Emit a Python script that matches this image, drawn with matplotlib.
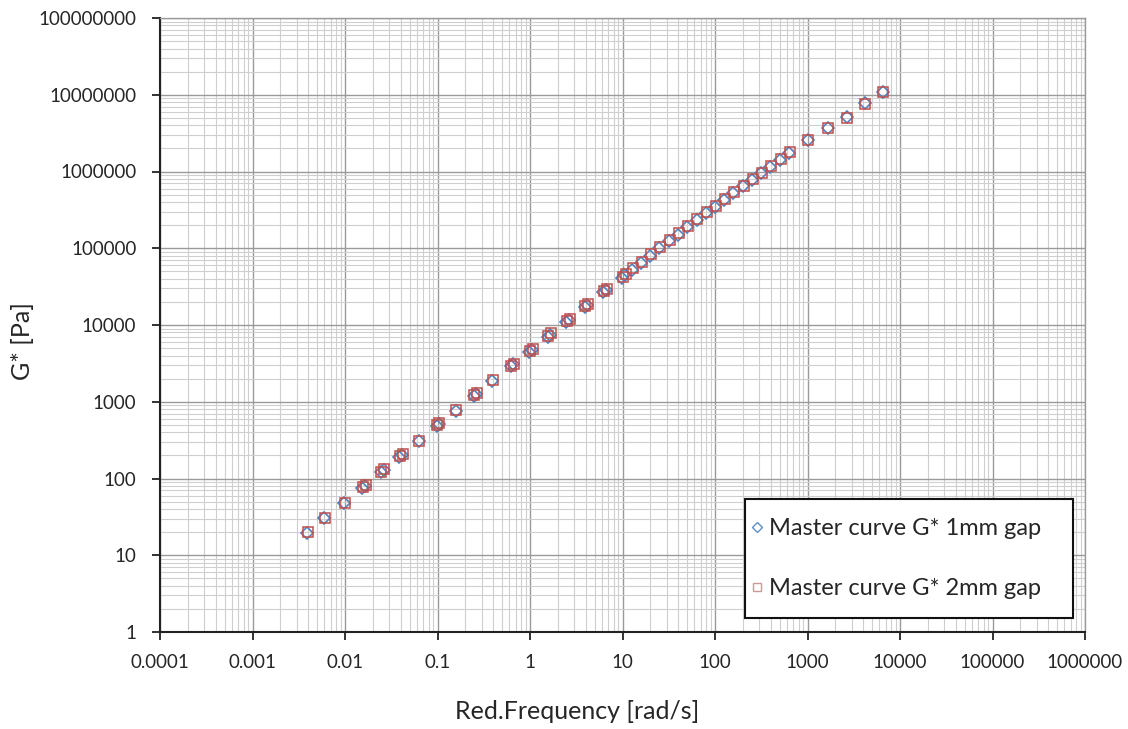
import matplotlib
matplotlib.use("Agg")
import matplotlib.pyplot as plt
from matplotlib.lines import Line2D
from matplotlib.patches import Rectangle
from matplotlib.ticker import LogLocator, FixedLocator, FixedFormatter, NullFormatter

# ---- data ----
freq_1mm = [0.0039, 0.0060, 0.0098, 0.0154, 0.0166, 0.0243, 0.0262, 0.0388, 0.0415, 0.0625,
            0.098, 0.104, 0.157, 0.247, 0.262, 0.393, 0.62, 0.66, 0.98, 1.05,
            1.55, 1.66, 2.45, 2.62, 3.9, 4.15, 6.2, 6.6, 9.8, 10.5,
            12.6, 15.8, 20.0, 25.1, 31.6, 39.8, 50.1, 63.1, 79.4, 100,
            126, 158, 200, 251, 316, 398, 501, 631, 1010, 1660,
            2680, 4190, 6570]
g_1mm = [19.3, 30.5, 47.5, 75, 81, 120, 129, 190, 203, 305,
         482, 510, 765, 1195, 1265, 1870, 2900, 3080, 4480, 4780,
         7050, 7520, 10900, 11650, 17100, 18200, 26700, 28400, 41500, 44300,
         52500, 64600, 80400, 100000, 123000, 151000, 188000, 234000, 285000, 347000,
         427000, 525000, 638000, 776000, 944000, 1150000, 1410000, 1740000, 2570000, 3690000,
         5100000, 7700000, 10800000]

freq_2mm = [0.0040, 0.0061, 0.0099, 0.0156, 0.0168, 0.0246, 0.0265, 0.0392, 0.0420, 0.0632,
            0.099, 0.105, 0.159, 0.250, 0.265, 0.398, 0.63, 0.67, 1.0, 1.07,
            1.58, 1.70, 2.50, 2.68, 3.98, 4.25, 6.3, 6.75, 10.0, 10.8,
            12.9, 16.2, 20.5, 25.7, 32.4, 40.7, 51.3, 64.6, 81.3, 102,
            129, 162, 204, 257, 324, 407, 513, 646, 1000, 1650,
            2650, 4150, 6500]
g_2mm = [19.8, 31, 48.5, 77, 82.5, 123, 132, 195, 208, 312,
         492, 522, 780, 1220, 1295, 1910, 2960, 3150, 4600, 4900,
         7250, 7750, 11200, 12000, 17600, 18800, 27400, 29300, 42800, 45800,
         54500, 67000, 83500, 103500, 127000, 156000, 194000, 241000, 294000, 357000,
         438000, 540000, 655000, 795000, 967000, 1175000, 1440000, 1770000, 2560000, 3680000,
         5050000, 7650000, 10700000]

x_ticks = [1e-4, 1e-3, 1e-2, 1e-1, 1, 10, 100, 1000, 1e4, 1e5, 1e6]
x_tick_labels = ["0.0001", "0.001", "0.01", "0.1", "1", "10", "100", "1000",
                 "10000", "100000", "1000000"]
y_ticks = [1, 10, 100, 1000, 1e4, 1e5, 1e6, 1e7, 1e8]
y_tick_labels = ["1", "10", "100", "1000", "10000", "100000", "1000000",
                 "10000000", "100000000"]

label_1 = "Master curve G* 1mm gap"
label_2 = "Master curve G* 2mm gap"
x_label = "Red.Frequency [rad/s]"
y_label = "G* [Pa]"

# ---- styling ----
plt.rcParams['font.family'] = ['Lato', 'DejaVu Sans']
blue = '#4F81BD'
red = '#C0504D'
txt = '#262626'

fig = plt.figure(figsize=(11.28, 7.29), dpi=100)
ax = fig.add_axes([160/1128, 1-632/729, 925/1128, 614/729])

ax.set_xscale('log')
ax.set_yscale('log')
ax.set_xlim(1e-4, 1e6)
ax.set_ylim(1, 1e8)

ax.xaxis.set_major_locator(FixedLocator(x_ticks))
ax.xaxis.set_major_formatter(FixedFormatter(x_tick_labels))
ax.yaxis.set_major_locator(FixedLocator(y_ticks))
ax.yaxis.set_major_formatter(FixedFormatter(y_tick_labels))
ax.xaxis.set_minor_locator(LogLocator(base=10, subs=range(2, 10), numticks=50))
ax.yaxis.set_minor_locator(LogLocator(base=10, subs=range(2, 10), numticks=50))
ax.xaxis.set_minor_formatter(NullFormatter())
ax.yaxis.set_minor_formatter(NullFormatter())

ax.grid(which='minor', color='#cfcfcf', linewidth=0.8)
ax.grid(which='major', color='#9a9a9a', linewidth=1.0)
ax.set_axisbelow(True)

ax.tick_params(which='major', direction='out', length=6, width=1.3, color='#222222',
               labelsize=13.5, labelcolor=txt)
ax.tick_params(axis='y', which='major', pad=11)
ax.tick_params(axis='x', which='major', pad=10)
ax.tick_params(which='minor', length=0)

for s in ['left', 'bottom']:
    ax.spines[s].set_color('#222222')
    ax.spines[s].set_linewidth(1.5)
for s in ['top', 'right']:
    ax.spines[s].set_color('#9a9a9a')
    ax.spines[s].set_linewidth(1.0)

ax.plot(freq_1mm, g_1mm, linestyle='none', marker='D', markersize=6.6,
        markerfacecolor='none', markeredgecolor=blue, markeredgewidth=1.2)
ax.plot(freq_2mm, g_2mm, linestyle='none', marker='s', markersize=7.2,
        markerfacecolor='none', markeredgecolor=red, markeredgewidth=1.1)

ax.set_xlabel(x_label, fontsize=18, color=txt)
ax.xaxis.set_label_coords((577 - 160) / 925, (632 - 700) / 614)
ax.set_ylabel(y_label, fontsize=18, color=txt)
ax.yaxis.set_label_coords((33.5 - 160) / 925, (632 - 341) / 614)

# legend box
ax.add_patch(Rectangle((0.6324, 0.0228), 0.3546, 0.1938, transform=ax.transAxes,
                       facecolor='white', edgecolor='#111111', linewidth=1.5, zorder=5))
handles = [Line2D([], [], linestyle='none', marker='D', markersize=5.5,
                  markerfacecolor='none', markeredgecolor='#5f8fc6', markeredgewidth=1.0),
           Line2D([], [], linestyle='none', marker='s', markersize=6,
                  markerfacecolor='none', markeredgecolor='#c99a98', markeredgewidth=1.0)]
leg = ax.legend(handles, [label_1, label_2],
                loc='center left', bbox_to_anchor=((751 - 160) / 925, (632 - 558.5) / 614),
                borderaxespad=0, borderpad=0, frameon=False, fontsize=17,
                labelspacing=1.65, handlelength=0.5, handletextpad=0.25,
                labelcolor=txt)
leg.set_zorder(6)

fig.savefig('out.png', dpi=100)
